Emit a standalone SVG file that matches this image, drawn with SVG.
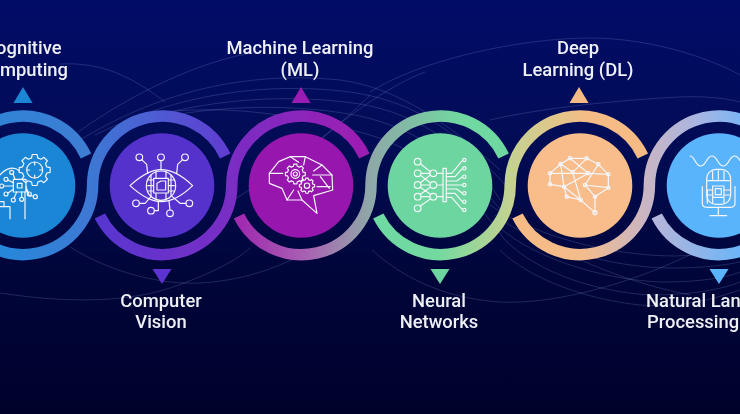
<svg xmlns="http://www.w3.org/2000/svg" xmlns:xlink="http://www.w3.org/1999/xlink" width="740" height="414" viewBox="0 0 740 414">
<style>
.lbl{font-family:Roboto,"Liberation Sans",sans-serif;font-size:18.4px;font-weight:500;fill:#eef0f6;text-anchor:middle}
.ic{fill:none;stroke:#f4f6fa;stroke-width:3.6;stroke-linejoin:round;stroke-linecap:round}
.ring{fill:none;stroke-width:11.5}
.bg{fill:none;stroke:#8296d2;stroke-opacity:.24;stroke-width:1}
</style>
<defs>
<linearGradient id="sky" x1="0" y1="0" x2="0" y2="1"><stop offset="0" stop-color="#010c68"/><stop offset=".35" stop-color="#020c55"/><stop offset=".65" stop-color="#00053a"/><stop offset="1" stop-color="#00012b"/></linearGradient>
<linearGradient id="sm" gradientUnits="userSpaceOnUse" x1="-40" y1="0" x2="100" y2="0"><stop offset="0" stop-color="#2a85d8"/><stop offset="1" stop-color="#3f7dd3"/></linearGradient>
<linearGradient id="s0" gradientUnits="userSpaceOnUse" x1="0" y1="0" x2="225" y2="0"><stop offset="0" stop-color="#2688da"/><stop offset=".4" stop-color="#3d78d4"/><stop offset="1" stop-color="#5f3ed2"/></linearGradient>
<linearGradient id="s1" gradientUnits="userSpaceOnUse" x1="100" y1="0" x2="364" y2="0"><stop offset="0" stop-color="#5836cf"/><stop offset=".5" stop-color="#7a2dc4"/><stop offset="1" stop-color="#9d1eb2"/></linearGradient>
<linearGradient id="s2" gradientUnits="userSpaceOnUse" x1="240" y1="0" x2="500" y2="0"><stop offset="0" stop-color="#a02ab0"/><stop offset=".28" stop-color="#a868b2"/><stop offset=".5" stop-color="#8ea8a8"/><stop offset=".85" stop-color="#70d8a0"/><stop offset="1" stop-color="#6dd9a0"/></linearGradient>
<linearGradient id="s3" gradientUnits="userSpaceOnUse" x1="380" y1="0" x2="640" y2="0"><stop offset="0" stop-color="#6ed9a2"/><stop offset=".22" stop-color="#72d9a0"/><stop offset=".5" stop-color="#c4d291"/><stop offset=".8" stop-color="#f6bc86"/><stop offset="1" stop-color="#f6bb85"/></linearGradient>
<linearGradient id="s4" gradientUnits="userSpaceOnUse" x1="518" y1="0" x2="782" y2="0"><stop offset="0" stop-color="#f6bb85"/><stop offset=".25" stop-color="#f3bc8c"/><stop offset=".5" stop-color="#c6b5c6"/><stop offset=".68" stop-color="#a9b5e2"/><stop offset=".9" stop-color="#6db5fa"/><stop offset="1" stop-color="#5ab5ff"/></linearGradient>
<linearGradient id="s5" gradientUnits="userSpaceOnUse" x1="656" y1="0" x2="760" y2="0"><stop offset="0" stop-color="#b4b5da"/><stop offset="1" stop-color="#5ab5ff"/></linearGradient>
<polygon id="gear" points="77.6,-19.4 98.8,-15.6 98.8,15.6 77.6,19.4 68.6,41.2 80.9,58.8 58.8,80.9 41.2,68.6 19.4,77.6 15.6,98.8 -15.6,98.8 -19.4,77.6 -41.2,68.6 -58.8,80.9 -80.9,58.8 -68.6,41.2 -77.6,19.4 -98.8,15.6 -98.8,-15.6 -77.6,-19.4 -68.6,-41.2 -80.9,-58.8 -58.8,-80.9 -41.2,-68.6 -19.4,-77.6 -15.6,-98.8 15.6,-98.8 19.4,-77.6 41.2,-68.6 58.8,-80.9 80.9,-58.8 68.6,-41.2"/>
<filter id="soft" x="-2%" y="-2%" width="104%" height="104%"><feGaussianBlur stdDeviation=".45"/></filter>
</defs>
<rect width="740" height="414" fill="url(#sky)"/>
<g filter="url(#soft)">
<g id="background-lines" class="bg">
<path d="M60 64C100 62 130 75 165 102"/>
<path d="M78 132C130 95 200 60 258 52"/>
<path d="M80 140C170 85 260 72 340 80C400 88 450 125 500 170"/>
<path d="M95 135C180 92 270 82 350 92C420 102 460 135 510 190"/>
<path d="M110 130C190 100 280 92 360 104C420 114 470 150 500 200"/>
<path d="M130 125C200 105 290 102 360 116C420 130 460 160 505 215"/>
<path d="M165 112C230 105 300 115 370 135C420 150 470 190 505 240"/>
<path d="M370 92C420 60 520 38 590 38C650 38 710 58 740 75"/>
<path d="M290 165C340 120 390 85 425 72"/>
<path d="M225 205C300 160 340 125 370 95"/>
<path d="M490 120C540 108 620 100 680 97C705 96 725 98 740 102"/>
<path d="M70 247C110 272 160 285 200 283C240 281 280 268 310 250"/>
<path d="M0 293C60 302 120 304 170 288C205 276 235 262 250 248"/>
<path d="M372 250C400 275 440 298 500 302C560 305 640 280 700 250"/>
<path d="M500 250C530 280 590 300 640 305C680 308 710 300 740 290"/>
<path d="M505 240C540 275 600 292 650 295C690 295 720 290 740 282"/>
<path d="M500 228C540 262 610 280 660 282C700 282 725 278 740 272"/>
<path d="M495 215C540 250 620 268 670 268C705 268 725 265 740 262"/>
<path d="M490 205C540 240 620 256 675 256C705 255 725 252 740 250"/>
<path d="M560 250C600 270 640 285 690 295"/>
</g>
<g id="connectors" class="ring">
<path stroke="url(#sm)" d="M-46.6 185A69.6 69.6 0 0 1 86 156"/>
<path stroke="url(#s5)" d="M656.7 216A69.6 69.6 0 0 0 788.6 185"/>
<path stroke="url(#s4)" d="M517.5 216A69.6 69.6 0 0 0 649.4 185A69.6 69.6 0 0 1 782 156"/>
<path stroke="url(#s3)" d="M378.3 216A69.6 69.6 0 0 0 510.2 185A69.6 69.6 0 0 1 642.8 156"/>
<path stroke="url(#s2)" d="M239 216A69.6 69.6 0 0 0 371 185A69.6 69.6 0 0 1 503.6 156"/>
<path stroke="url(#s1)" d="M99.9 216A69.6 69.6 0 0 0 231.8 185A69.6 69.6 0 0 1 364.4 156"/>
<path stroke="url(#s0)" d="M-39.3 216A69.6 69.6 0 0 0 92.6 185A69.6 69.6 0 0 1 225.2 156"/>
</g>
<g id="cognitive-computing">
<circle cx="23" cy="185.5" r="52.3" fill="#1a86d6"/>
<polygon points="23,87 13.5,103 32.5,103" fill="#1f86d6"/>
<g class="ic" transform="translate(0 140) scale(.3333)">
<use xlink:href="#gear" transform="translate(104 90) scale(.47)" stroke-width="7.6"/>
<circle cx="104" cy="90" r="24"/><path d="M104 66v9M104 105v9M80 90h9M119 90h9"/>
<rect x="40" y="118" width="38" height="38"/><rect x="52" y="130" width="14" height="14"/>
<path d="M0 105Q12 90 30 85Q45 82 58 92M0 185H12V200H30V236M-2 200H12"/>
<circle cx="35" cy="97" r="6"/><circle cx="18" cy="118" r="6"/><circle cx="5" cy="138" r="6"/><circle cx="18" cy="162" r="6"/><circle cx="40" cy="180" r="6"/><circle cx="65" cy="178" r="6"/><circle cx="88" cy="162" r="6"/><circle cx="106" cy="170" r="6"/>
<path d="M39 102L45 118M23 120L40 128M11 138H40M23 160L40 148M42 175L50 156M65 172V156M83 158L78 150M100 168H88L78 140M75 236V156"/>
</g>
</g>
<g id="computer-vision">
<circle cx="162" cy="185.5" r="52.3" fill="#5530cc"/>
<polygon points="152.5,269 171.5,269 162,284" fill="#5b32d0"/>
<g class="ic" transform="translate(125 145) scale(.3333)">
<path d="M15 122C50 90 80 74 108 74C136 74 170 90 203 122C170 154 136 170 108 170C80 170 50 154 15 122Z"/>
<circle cx="108" cy="122" r="44"/>
<path d="M78 90V154M93 80V165M123 80V165M138 90V154M68 105H148M68 122H88M128 122H148M68 138H148"/>
<rect x="86" y="100" width="44" height="44" fill="#5530cc"/><path d="M96 135V115L108 108H122V135Z"/>
<circle cx="43" cy="37" r="10"/><circle cx="108" cy="37" r="10"/><circle cx="180" cy="37" r="10"/>
<circle cx="33" cy="175" r="10"/><circle cx="78" cy="197" r="10"/><circle cx="135" cy="205" r="10"/><circle cx="193" cy="175" r="10"/>
<path d="M50 44L65 58L68 85M108 47V74M173 44L158 58L155 85M43 175H60L78 155M88 197H100V168M135 195L132 168M183 175H165L142 155"/>
</g>
</g>
<g id="machine-learning">
<circle cx="301" cy="185.5" r="52.3" fill="#9717ad"/>
<polygon points="301,87 291.5,103 310.5,103" fill="#9b1fb3"/>
<g class="ic" transform="translate(262 145) scale(.3333)">
<path d="M60 130L22 115V85L50 50L85 35H130L180 60L210 90L212 135L155 152L165 205L120 165H75L60 130Z"/>
<path d="M22 85H62M85 35L110 52M130 35L125 60M180 60L155 78M152 90H210M175 95L202 130M165 125H205M75 165L95 135M120 165L108 138"/>
<use xlink:href="#gear" transform="translate(100 87) scale(.3)" stroke-width="12"/>
<circle cx="100" cy="87" r="13"/><circle cx="100" cy="87" r="6"/>
<use xlink:href="#gear" transform="translate(135 122) scale(.23)" stroke-width="15.6"/>
<circle cx="135" cy="122" r="8"/>
</g>
</g>
<g id="neural-networks">
<circle cx="440" cy="185.5" r="52.3" fill="#6dd6a0"/>
<polygon points="430.5,269 449.5,269 440,284" fill="#6dd6a0"/>
<g class="ic" transform="translate(405 145) scale(.3333)">
<circle cx="38" cy="50" r="10"/><circle cx="38" cy="85" r="10"/><circle cx="38" cy="120" r="10"/><circle cx="38" cy="155" r="10"/><circle cx="38" cy="190" r="10"/>
<circle cx="85" cy="85" r="10"/><circle cx="85" cy="120" r="10"/><circle cx="85" cy="155" r="10"/>
<path d="M46 56L76 80M48 85H75M46 113L76 90M46 91L76 113M48 120H75M46 148L76 127M46 127L76 148M48 155H75M46 183L76 162"/>
<path d="M95 85H114M95 120H114M95 155H114"/>
<rect x="114" y="70" width="10" height="100"/>
<path d="M124 85H140L172 47M124 95H150L172 71M124 108H155L172 96M124 120H172M124 132H155L172 145M124 145H150L172 170M124 157H140L172 194"/>
<circle cx="178" cy="45" r="5"/><circle cx="178" cy="70" r="5"/><circle cx="178" cy="95" r="5"/><circle cx="178" cy="120" r="5"/><circle cx="178" cy="145" r="5"/><circle cx="178" cy="170" r="5"/><circle cx="178" cy="195" r="5"/>
</g>
</g>
<g id="deep-learning">
<circle cx="580" cy="185.5" r="52.3" fill="#f8bd8a"/>
<polygon points="579,87 569.5,103 588.5,103" fill="#f6bb85"/>
<g class="ic" transform="translate(540 145) scale(.3333)">
<path d="M90 40L140 40L175 58L205 88V128L165 155V203L122 165L80 155L72 125L30 118V85L62 57L90 40M62 57L98 82M30 85H98L145 85L205 88M140 40L98 82M90 40L145 85M175 58L135 120M62 57L72 125M72 125L122 165M135 120L205 128M72 125L145 85M98 82L122 165M135 120L165 155"/>
<circle cx="90" cy="40" r="5"/><circle cx="140" cy="40" r="5"/><circle cx="175" cy="58" r="5"/><circle cx="62" cy="57" r="5"/><circle cx="205" cy="88" r="5"/><circle cx="30" cy="85" r="5"/><circle cx="98" cy="82" r="5"/><circle cx="145" cy="85" r="5"/><circle cx="30" cy="118" r="5"/><circle cx="72" cy="125" r="5"/><circle cx="135" cy="120" r="5"/><circle cx="205" cy="128" r="5"/><circle cx="80" cy="155" r="5"/><circle cx="122" cy="165" r="5"/><circle cx="165" cy="155" r="5"/><circle cx="165" cy="203" r="6"/>
</g>
</g>
<g id="natural-language-processing">
<circle cx="719" cy="185.5" r="52.3" fill="#5ab4fb"/>
<polygon points="709.5,269 728.5,269 719,284" fill="#5ab4fb"/>
<g class="ic" transform="translate(490 90) scale(.3333)">
<path d="M600 198C615 198 615 228 632 228C649 228 649 198 666 198C683 198 683 228 700 228C717 228 717 198 734 198C751 198 751 228 768 228"/>
<rect x="650" y="238" width="72" height="105" rx="28"/>
<path d="M668 245V268M685 242V268M702 245V268M652 272H720M652 340V300H668M652 315H668M702 300H720M702 315H720M668 340V325M702 340V325"/>
<rect x="668" y="288" width="34" height="34"/><rect x="676" y="296" width="18" height="18"/>
<path d="M637 290V340Q637 352 650 352H722Q735 352 735 340V290M685 352V376M660 377H710"/>
</g>
</g>
<g id="labels">
<text class="lbl" style="text-anchor:end" x="61.5" y="54">ognitive</text>
<text class="lbl" style="text-anchor:end" x="68" y="76">mputing</text>
<text class="lbl" x="300" y="54">Machine Learning</text>
<text class="lbl" x="300" y="76">(ML)</text>
<text class="lbl" x="578" y="54">Deep</text>
<text class="lbl" x="578" y="76">Learning (DL)</text>
<text class="lbl" x="161" y="307">Computer</text>
<text class="lbl" x="161" y="328">Vision</text>
<text class="lbl" x="439" y="307">Neural</text>
<text class="lbl" x="439" y="328">Networks</text>
<text class="lbl" style="text-anchor:start" x="646" y="307">Natural Lan</text>
<text class="lbl" style="text-anchor:start" x="647" y="328">Processing</text>
</g>
</g>
</svg>
